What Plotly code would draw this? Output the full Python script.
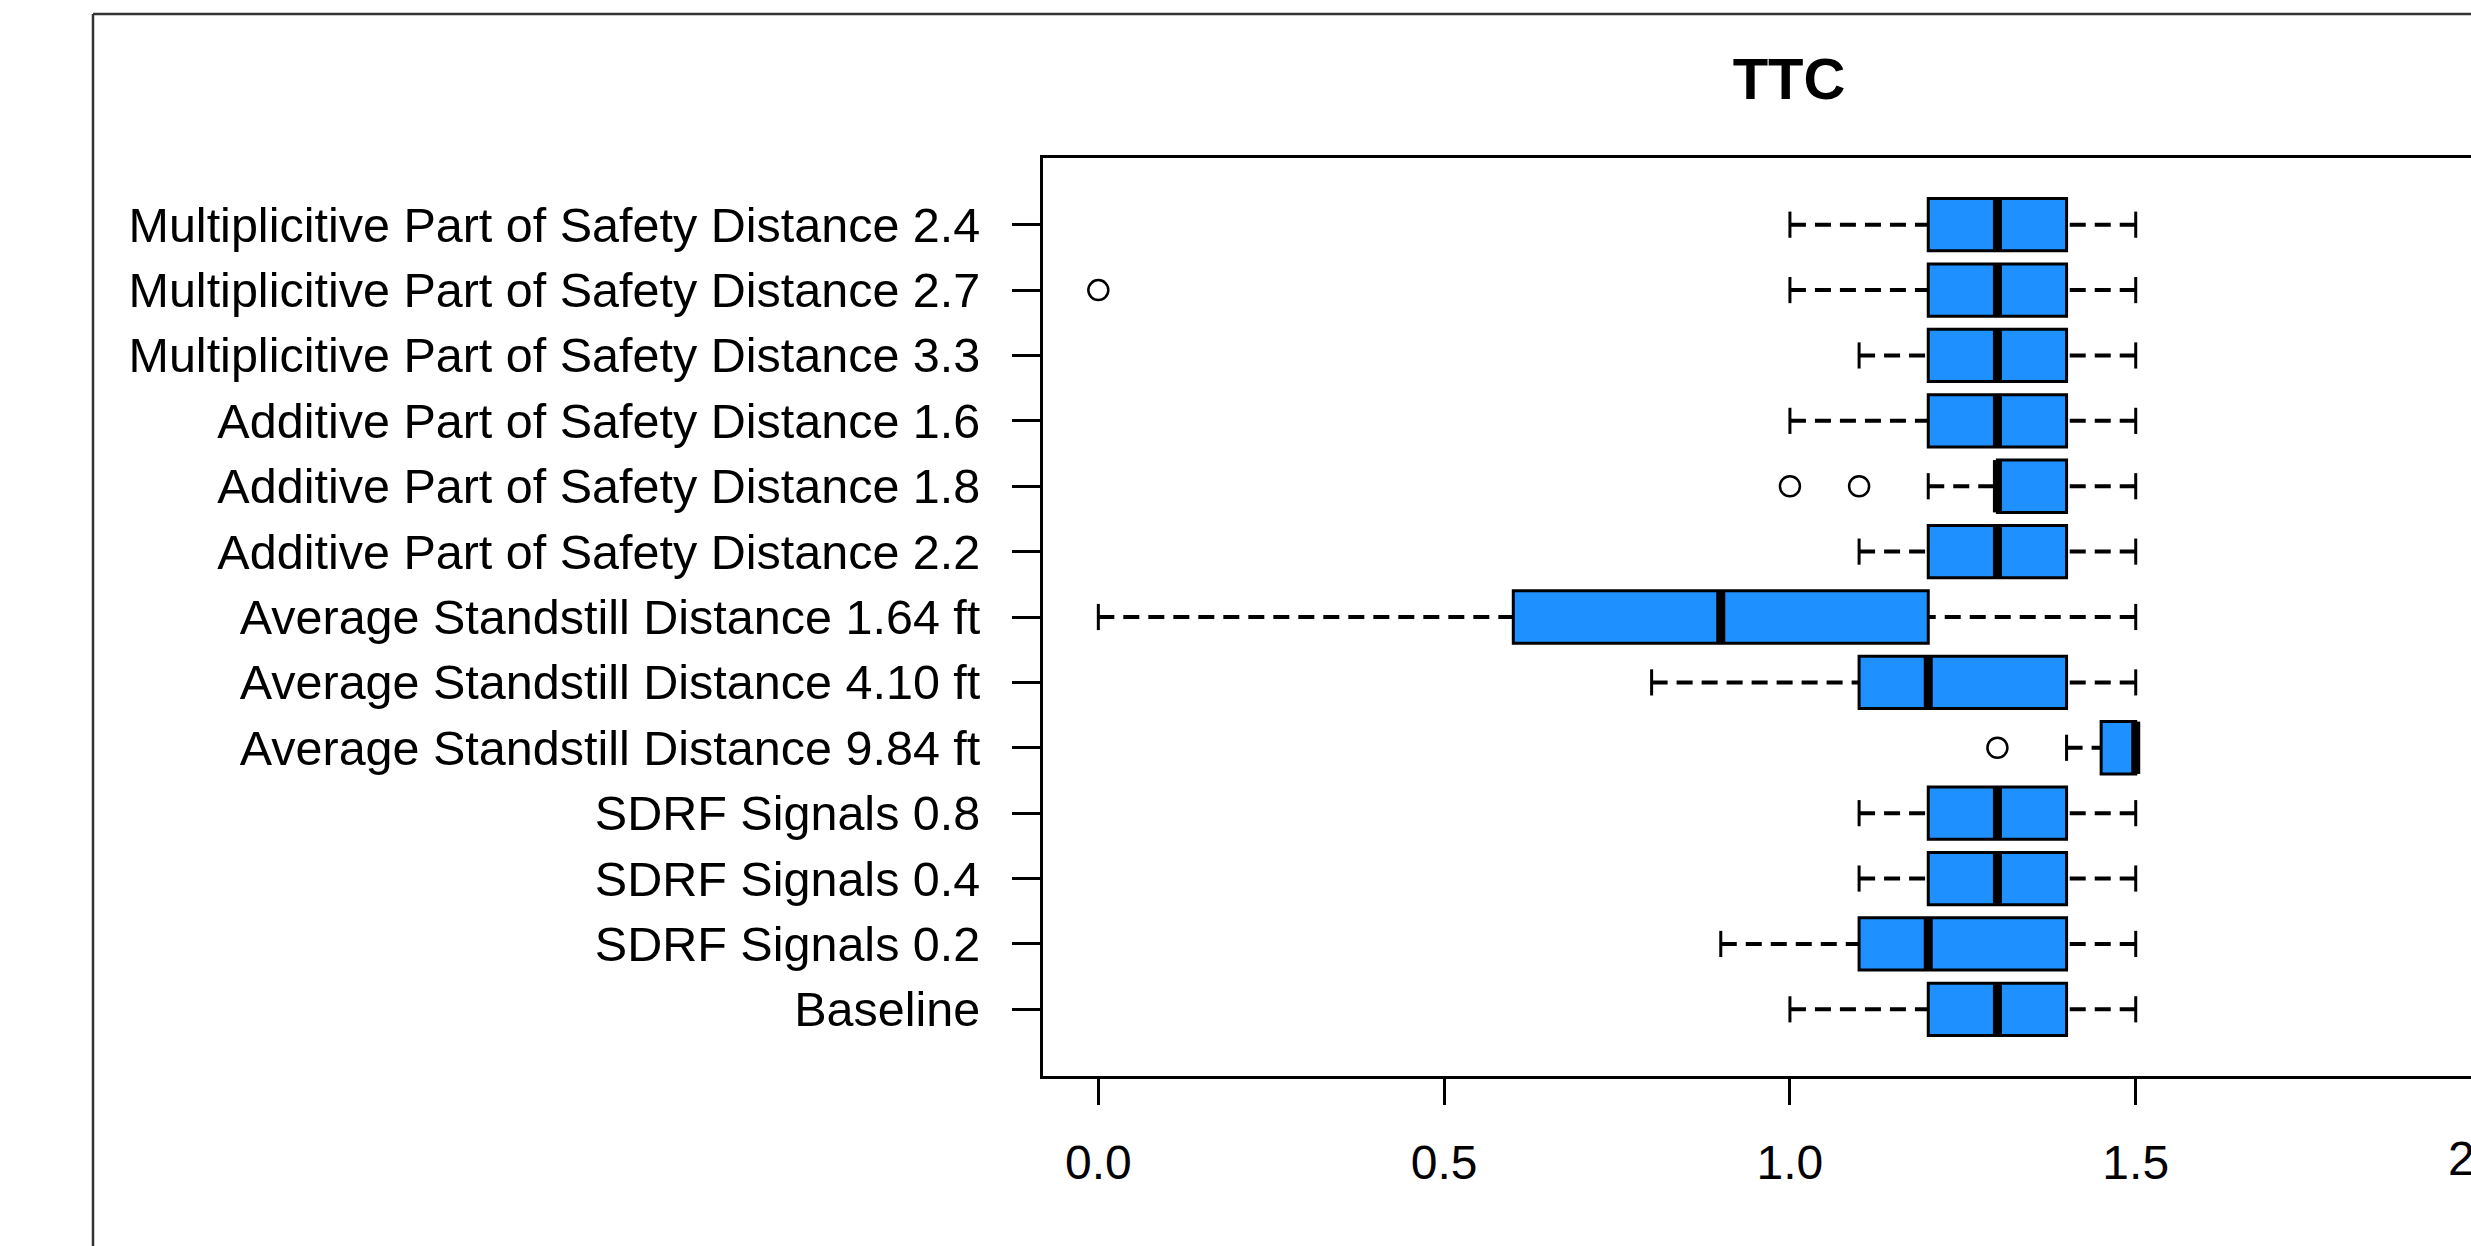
import plotly.graph_objects as go

# ---- data (bottom to top, as drawn) ----
categories = [
    "Baseline",
    "SDRF Signals 0.2",
    "SDRF Signals 0.4",
    "SDRF Signals 0.8",
    "Average Standstill Distance 9.84 ft",
    "Average Standstill Distance 4.10 ft",
    "Average Standstill Distance 1.64 ft",
    "Additive Part of Safety Distance 2.2",
    "Additive Part of Safety Distance 1.8",
    "Additive Part of Safety Distance 1.6",
    "Multiplicitive Part of Safety Distance 3.3",
    "Multiplicitive Part of Safety Distance 2.7",
    "Multiplicitive Part of Safety Distance 2.4",
]
lower_whisker = [1.0, 0.9, 1.1, 1.1, 1.4, 0.8, 0.0, 1.1, 1.2, 1.0, 1.1, 1.0, 1.0]
q1_vals       = [1.2, 1.1, 1.2, 1.2, 1.45, 1.1, 0.6, 1.2, 1.3, 1.2, 1.2, 1.2, 1.2]
median_vals   = [1.3, 1.2, 1.3, 1.3, 1.5, 1.2, 0.9, 1.3, 1.3, 1.3, 1.3, 1.3, 1.3]
q3_vals       = [1.4, 1.4, 1.4, 1.4, 1.5, 1.4, 1.2, 1.4, 1.4, 1.4, 1.4, 1.4, 1.4]
upper_whisker = [1.5, 1.5, 1.5, 1.5, 1.5, 1.5, 1.5, 1.5, 1.5, 1.5, 1.5, 1.5, 1.5]
outlier_cat   = ["Additive Part of Safety Distance 1.8", "Additive Part of Safety Distance 1.8",
                 "Average Standstill Distance 9.84 ft", "Multiplicitive Part of Safety Distance 2.7"]
outlier_vals  = [1.0, 1.1, 1.3, 0.0]
x_tick_vals   = [0.0, 0.5, 1.0, 1.5]
x_tick_text   = ["0.0", "0.5", "1.0", "1.5"]
title_text    = "TTC"

# ---- layout constants (pixels) ----
W, H = 2471, 1246
ML, MT, MB = 1043, 158, 170
PW = W - ML
PH = H - MT - MB
FONT = "Arial, Liberation Sans, sans-serif"
BLUE = "#1E90FF"
BOXW = 0.8
STAPLE = 0.4

pos = list(range(1, len(categories) + 1))
cat_pos = {c: p for c, p in zip(categories, pos)}

fig = go.Figure()

# boxes (no plotly whiskers: fences equal quartiles)
fig.add_trace(go.Box(
    y=pos, q1=q1_vals, median=median_vals, q3=q3_vals,
    lowerfence=q1_vals, upperfence=q3_vals,
    orientation="h", width=BOXW, whiskerwidth=0,
    fillcolor=BLUE, line=dict(color="black", width=3),
    boxpoints=False, hoverinfo="skip", showlegend=False,
))

# dashed whiskers (drawn from the whisker end toward the box, as R does) and staples
for p, lo, a, b, hi in zip(pos, lower_whisker, q1_vals, q3_vals, upper_whisker):
    for start, end in ((lo, a), (hi, b)):
        if start != end:
            fig.add_trace(go.Scatter(
                x=[start, end], y=[p, p], mode="lines",
                line=dict(color="black", width=4, dash="16px,9px"),
                hoverinfo="skip", showlegend=False,
            ))
    fig.add_trace(go.Scatter(
        x=[lo, lo, None, hi, hi], y=[p - STAPLE / 2, p + STAPLE / 2, None, p - STAPLE / 2, p + STAPLE / 2],
        mode="lines", line=dict(color="black", width=3),
        hoverinfo="skip", showlegend=False,
    ))

# thick medians
mx, my = [], []
for p, m in zip(pos, median_vals):
    mx += [m, m, None]
    my += [p - BOXW / 2, p + BOXW / 2, None]
fig.add_trace(go.Scatter(x=mx, y=my, mode="lines", line=dict(color="black", width=9),
                         hoverinfo="skip", showlegend=False))

# outliers
fig.add_trace(go.Scatter(
    x=outlier_vals, y=[cat_pos[c] for c in outlier_cat], mode="markers",
    marker=dict(symbol="circle-open", size=20, color="black", line=dict(width=2.5, color="black")),
    hoverinfo="skip", showlegend=False,
))

x_lo = -0.08
unit = 691.6
x_hi = x_lo + PW / unit

def px_x(px):
    return (px - ML) / PW

def px_y(py):
    return (H - MB - py) / PH

shapes = [
    dict(type="line", xref="paper", yref="paper", x0=px_x(93), x1=px_x(W + 5), y0=px_y(14), y1=px_y(14),
         line=dict(color="#333333", width=2.5)),
    dict(type="line", xref="paper", yref="paper", x0=px_x(93), x1=px_x(93), y0=px_y(14), y1=px_y(H + 5),
         line=dict(color="#333333", width=2.5)),
]

# partially visible "2.0" tick label at the right edge (its axis position lies just past the page)
x2_px = ML + (2.0 - x_lo) * unit
annotations = [
    dict(text="2.0", xref="paper", yref="paper", x=px_x(x2_px), y=px_y(1158),
         xanchor="center", yanchor="middle", showarrow=False,
         font=dict(family=FONT, size=48, color="black")),
]

fig.update_layout(
    width=W, height=H,
    margin=dict(l=ML, r=0, t=MT, b=MB, autoexpand=False),
    paper_bgcolor="white", plot_bgcolor="white",
    title=dict(text="<b>" + title_text + "</b>", xref="paper", x=px_x(1789), xanchor="center",
               yref="container", y=1 - 79 / H, yanchor="middle",
               font=dict(family=FONT, size=58, color="black")),
    xaxis=dict(range=[x_lo, x_hi], tickvals=x_tick_vals, ticktext=x_tick_text,
               ticks="outside", ticklen=26, tickwidth=2.5, tickcolor="black",
               showline=True, linewidth=3, linecolor="black", mirror=True,
               showgrid=False, zeroline=False, ticklabelstandoff=16,
               tickfont=dict(family=FONT, size=48, color="black")),
    yaxis=dict(range=[-0.02, 14.02], tickvals=pos, ticktext=categories,
               ticks="outside", ticklen=28, tickwidth=2.5, tickcolor="black",
               showline=True, linewidth=3, linecolor="black", mirror=False,
               showgrid=False, zeroline=False, ticklabelstandoff=22,
               tickfont=dict(family=FONT, size=48.5, color="black")),
    shapes=shapes, annotations=annotations,
    showlegend=False,
)

fig.write_html("out.html",
               config={"displayModeBar": False},
               post_script="document.body.style.margin='0px';document.body.style.overflow='hidden';")
